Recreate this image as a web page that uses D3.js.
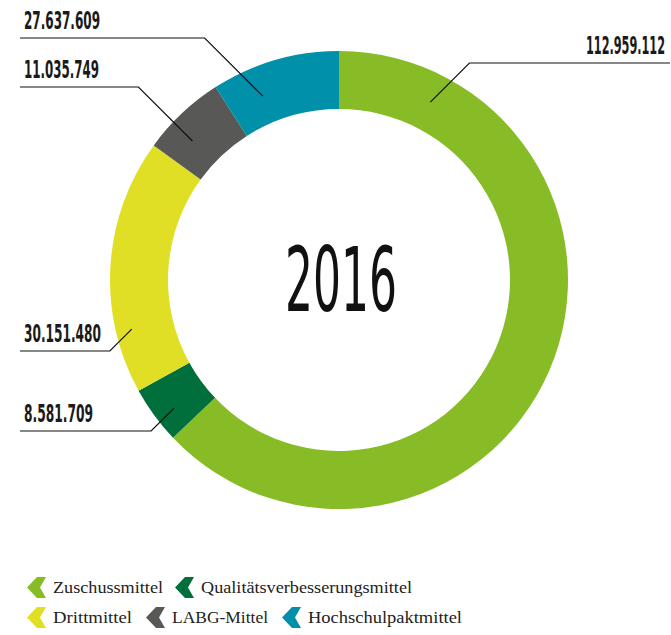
<!DOCTYPE html>
<html>
<head>
<meta charset="utf-8">
<script src="https://cdn.jsdelivr.net/npm/d3@7"></script>
<style>
  html, body { margin: 0; padding: 0; background: #fff; }
  svg { display: block; }
</style>
</head>
<body>
<svg id="chart" width="671" height="635"></svg>
<script>
// ---- data ----
const categories = ["Zuschussmittel", "Qualitätsverbesserungsmittel", "Drittmittel", "LABG-Mittel", "Hochschulpaktmittel"];
// amounts as printed on the labels
const amounts = [112959112, 8581709, 30151480, 11035749, 27637609];
// arc shares (percent of the ring) as drawn in the picture
const shares = [62.9, 4.06, 18.03, 5.94, 9.06];
const colors = ["#87bc26", "#006f3b", "#e0de25", "#585857", "#0090a9"];
const centerTitle = "2016";

// ---- layout ----
const W = 671, H = 635;
const cx = 339, cy = 280, rOuter = 229, rInner = 171;
// label layout: anchor position inside slice (fraction of slice angle, radius), leader line y, side
const labelLayout = [
  { t: 0.12, r: 200, lineY: 63, side: "right", width: 79 },
  { t: 0.39, r: 209, lineY: 431, side: "left", width: 69 },
  { t: 0.24, r: 213, lineY: 351, side: "left", width: 77 },
  { t: 0.35, r: 202, lineY: 87, side: "left", width: 75 },
  { t: 0.31, r: 199, lineY: 38, side: "left", width: 76 }
];
const legendLayout = [
  { x: 27, y: 593, textW: 110 },
  { x: 175, y: 593, textW: 211 },
  { x: 27, y: 623, textW: 79 },
  { x: 146, y: 623, textW: 96 },
  { x: 282, y: 623, textW: 154 }
];

const fmt = v => d3.format(",")(v).replace(/,/g, ".");
const svg = d3.select("#chart");
const numFont = "'Liberation Sans Narrow', 'DejaVu Sans Condensed', 'Roboto', sans-serif";
const serifFont = "'Liberation Serif', 'DejaVu Serif', serif";

const pie = d3.pie().sort(null).value(d => d.share).startAngle(0).endAngle(2 * Math.PI);
const data = categories.map((c, i) => ({ name: c, amount: amounts[i], share: shares[i], color: colors[i] }));
const arcs = pie(data);
const arc = d3.arc().innerRadius(rInner).outerRadius(rOuter);

const g = svg.append("g").attr("transform", `translate(${cx},${cy})`);
g.selectAll("path.slice").data(arcs).join("path")
  .attr("class", "slice")
  .attr("d", arc)
  .attr("fill", d => d.data.color);

// center title
svg.append("text")
  .attr("x", 341).attr("y", 311)
  .attr("text-anchor", "middle")
  .attr("font-family", numFont)
  .attr("font-size", 89)
  .attr("textLength", 112)
  .attr("lengthAdjust", "spacingAndGlyphs")
  .attr("fill", "#111")
  .text(centerTitle);

// leader lines and labels
arcs.forEach((a, i) => {
  const L = labelLayout[i];
  const ang = a.startAngle + (a.endAngle - a.startAngle) * L.t;
  const ax = cx + L.r * Math.sin(ang);
  const ay = cy - L.r * Math.cos(ang);
  const dy = Math.abs(L.lineY - ay);
  const ex = L.side === "left" ? ax - dy : ax + dy;
  const endX = L.side === "left" ? 20 : 670;
  svg.append("polyline")
    .attr("points", `${ax},${ay} ${ex},${L.lineY} ${endX},${L.lineY}`)
    .attr("fill", "none")
    .attr("stroke", "#111")
    .attr("stroke-width", 1.2);
  svg.append("text")
    .attr("x", L.side === "left" ? 24 : 665)
    .attr("y", L.lineY - 9)
    .attr("text-anchor", L.side === "left" ? "start" : "end")
    .attr("font-family", numFont)
    .attr("font-weight", "bold")
    .attr("font-size", 24)
    .attr("textLength", L.width)
    .attr("lengthAdjust", "spacingAndGlyphs")
    .attr("fill", "#1a1a1a")
    .text(fmt(a.data.amount));
});

// legend
const chevron = "M10,0 L19,0 L13,10.5 L19,21 L10,21 L0,10.5 Z";
data.forEach((d, i) => {
  const L = legendLayout[i];
  const lg = svg.append("g");
  lg.append("path")
    .attr("d", chevron)
    .attr("transform", `translate(${L.x},${L.y - 16})`)
    .attr("fill", d.color);
  lg.append("text")
    .attr("x", L.x + 26)
    .attr("y", L.y)
    .attr("font-family", serifFont)
    .attr("font-size", 17)
    .attr("textLength", L.textW)
    .attr("lengthAdjust", "spacingAndGlyphs")
    .attr("fill", "#222")
    .text(d.name);
});
</script>
</body>
</html>
